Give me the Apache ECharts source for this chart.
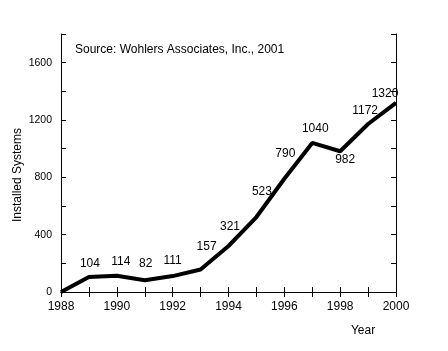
<!DOCTYPE html>
<html>
<head>
<meta charset="utf-8">
<script src="https://cdn.jsdelivr.net/npm/echarts@6/dist/echarts.min.js"></script>
<style>
  html, body { margin: 0; padding: 0; background: #fff; }
  #chart { width: 448px; height: 351px; }
</style>
</head>
<body>
<div id="chart"></div>
<script>
// data
const years = [1988, 1989, 1990, 1991, 1992, 1993, 1994, 1995, 1996, 1997, 1998, 1999, 2000];
const installed = [0, 104, 114, 82, 111, 157, 321, 523, 790, 1040, 982, 1172, 1320];
const xTickLabels = [1988, 1990, 1992, 1994, 1996, 1998, 2000];
const yTickLabels = [0, 400, 800, 1200, 1600];

// label nudges so the numbers sit where the original put them
const labelOffsets = [
  null, [1, -7], [4, -7.5], [1, -10], [0, -8.6], [6, -16], [1.5, -12.5],
  [5.5, -19], [1, -18.6], [3, -7.5], [5, 15], [-3, -6.5], [-11, -3]
];

const font = 'Arial, "Liberation Sans", sans-serif';
const chart = echarts.init(document.getElementById('chart'));

const points = years.map((y, i) => {
  const item = { value: [y, installed[i]] };
  if (labelOffsets[i]) {
    item.label = { show: true, offset: labelOffsets[i] };
  } else {
    item.label = { show: false };
  }
  return item;
});

const axisLine = { show: true, lineStyle: { color: '#000', width: 1 } };
const tickIn = { show: true, inside: true, length: 5, lineStyle: { color: '#000' } };

chart.setOption({
  animation: false,
  grid: { left: 61, right: 52, top: 34, bottom: 59 },
  textStyle: { fontFamily: font },
  xAxis: [
    {
      type: 'value', min: 1988, max: 2000, interval: 1,
      axisLine: axisLine, axisTick: tickIn, splitLine: { show: false },
      axisLabel: {
        color: '#000', fontSize: 12, fontFamily: font, margin: 9,
        formatter: v => xTickLabels.includes(v) ? String(v) : ''
      }
    },
    {
      type: 'value', position: 'top', min: 1988, max: 2000, interval: 1,
      axisLine: axisLine, axisTick: tickIn, splitLine: { show: false },
      axisLabel: { show: false }
    }
  ],
  yAxis: [
    {
      type: 'value', min: 0, max: 1800, interval: 200,
      axisLine: axisLine, axisTick: tickIn, splitLine: { show: false },
      axisLabel: {
        color: '#000', fontSize: 10.5, fontFamily: font, margin: 9,
        formatter: v => yTickLabels.includes(v) ? String(v) : ''
      }
    },
    {
      type: 'value', position: 'right', min: 0, max: 1800, interval: 200,
      axisLine: axisLine, axisTick: tickIn, splitLine: { show: false },
      axisLabel: { show: false }
    }
  ],
  series: [{
    type: 'line',
    data: points,
    symbol: 'circle',
    symbolSize: 1,
    showSymbol: true,
    itemStyle: { color: '#000' },
    lineStyle: { color: '#000', width: 4 },
    label: {
      show: true, position: 'top', distance: 0,
      color: '#000', fontSize: 12, fontFamily: font,
      formatter: p => String(p.value[1])
    }
  }],
  graphic: [
    {
      type: 'text', left: 75, top: 44,
      style: { text: 'Source: Wohlers Associates, Inc., 2001', fill: '#000', font: '12px ' + font }
    },
    {
      type: 'text', x: 18, y: 175, rotation: Math.PI / 2,
      style: { text: 'Installed Systems', fill: '#000', font: '12px ' + font, align: 'center', verticalAlign: 'middle' }
    },
    {
      type: 'text', x: 363, y: 331,
      style: { text: 'Year', fill: '#000', font: '12px ' + font, align: 'center', verticalAlign: 'middle' }
    }
  ]
});
</script>
</body>
</html>
